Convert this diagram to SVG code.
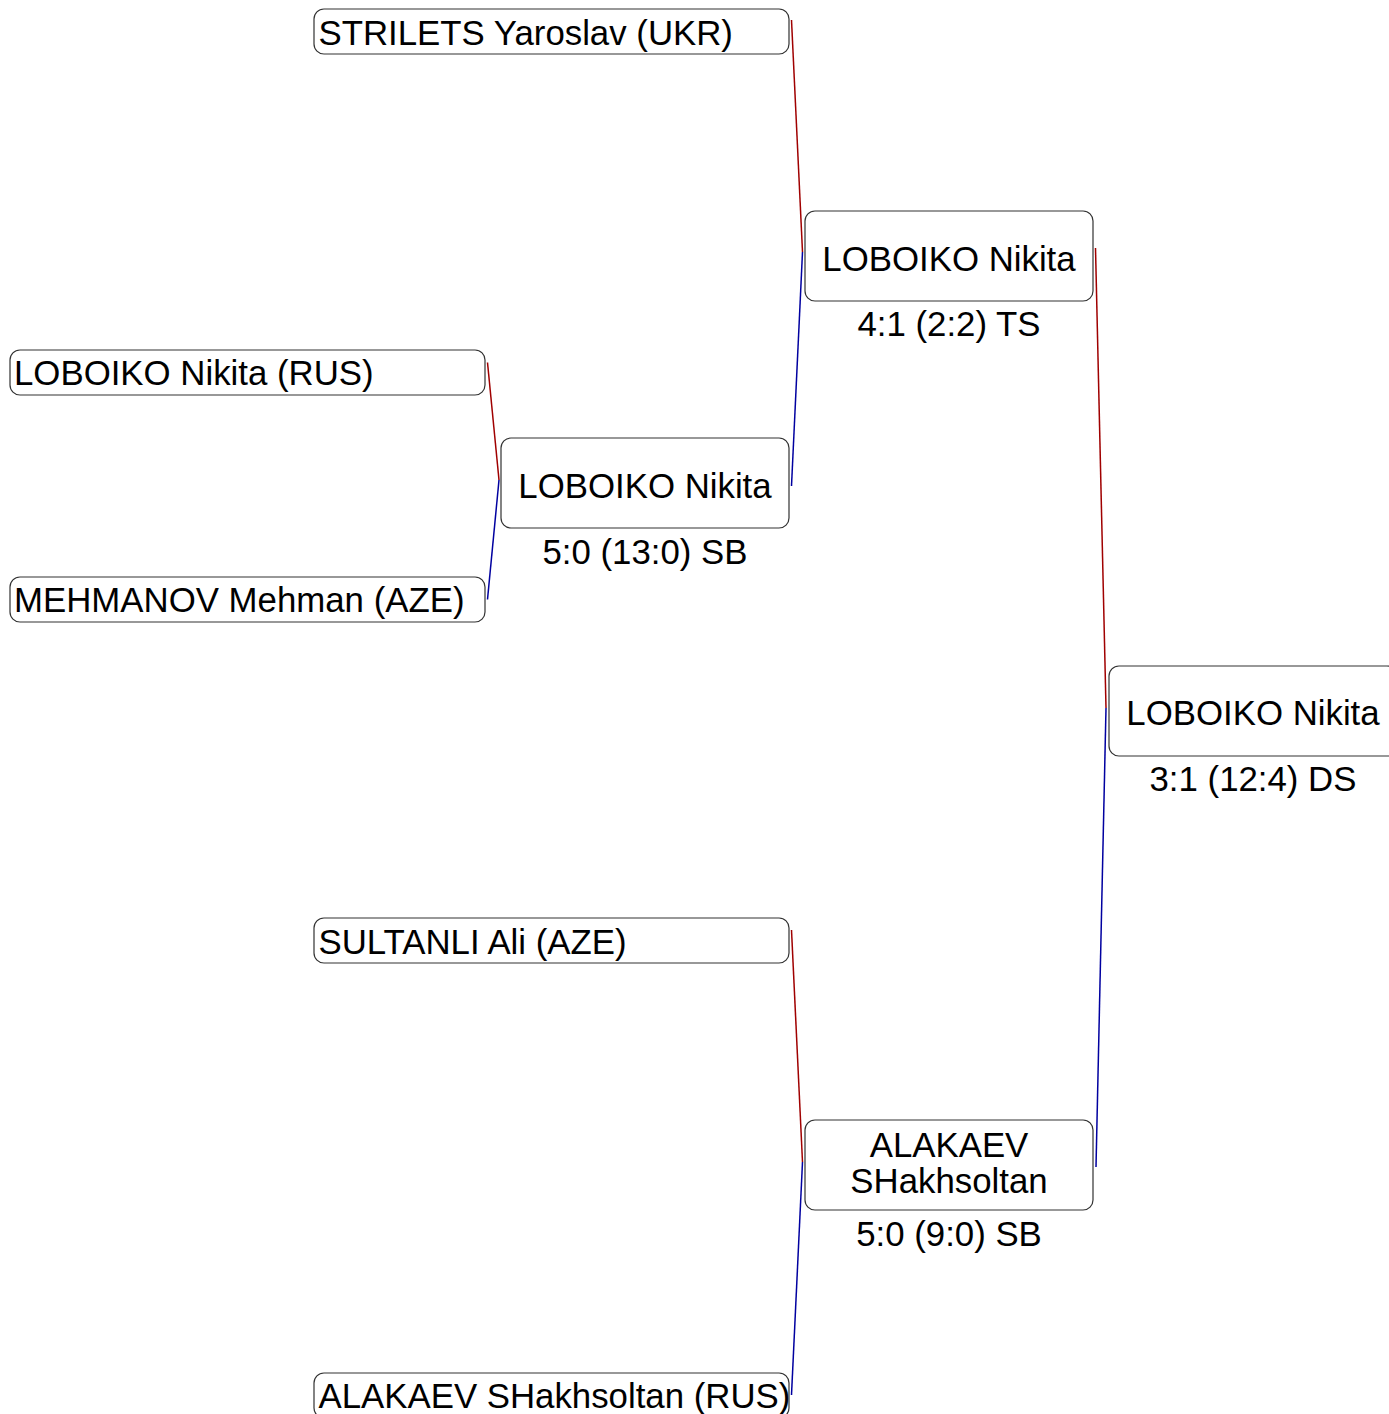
<svg xmlns="http://www.w3.org/2000/svg" width="1389" height="1414" viewBox="0 0 1389 1414">
<style>
.box{fill:#fff;stroke:#333;stroke-width:1.2}
.t{font-family:"Liberation Sans",Arial,sans-serif;font-size:34.8px;fill:#000}
.c{text-anchor:middle}
.red{stroke:#a00000;stroke-width:1.5;fill:none}
.blue{stroke:#0000a0;stroke-width:1.5;fill:none}
</style>
<rect width="1389" height="1414" fill="#fff"/>
<g id="connectors">
<line class="red" x1="791.5" y1="20" x2="802.5" y2="252"/>
<line class="blue" x1="802.5" y1="252" x2="791.5" y2="486"/>
<line class="red" x1="487.5" y1="362.5" x2="499" y2="480"/>
<line class="blue" x1="499" y1="480" x2="487.5" y2="599.5"/>
<line class="red" x1="1095.5" y1="248" x2="1106" y2="708"/>
<line class="blue" x1="1106" y1="708" x2="1096" y2="1167"/>
<line class="red" x1="791.5" y1="930" x2="802.5" y2="1162"/>
<line class="blue" x1="802.5" y1="1162" x2="791.5" y2="1395"/>
</g>
<g id="n-strilets">
<rect class="box" x="314" y="9" width="475" height="45" rx="10"/>
<text class="t" x="318.5" y="44.5">STRILETS Yaroslav (UKR)</text>
</g>
<g id="n-loboiko-rus">
<rect class="box" x="10" y="350" width="475" height="45" rx="10"/>
<text class="t" x="14" y="385">LOBOIKO Nikita (RUS)</text>
</g>
<g id="n-mehmanov">
<rect class="box" x="10" y="577" width="475" height="45" rx="10"/>
<text class="t" x="14" y="612">MEHMANOV Mehman (AZE)</text>
</g>
<g id="n-sultanli">
<rect class="box" x="314" y="918" width="475" height="45" rx="10"/>
<text class="t" x="318.5" y="953.5">SULTANLI Ali (AZE)</text>
</g>
<g id="n-alakaev-rus">
<rect class="box" x="314" y="1373" width="475" height="45" rx="10"/>
<text class="t" x="318.5" y="1408">ALAKAEV SHakhsoltan (RUS)</text>
</g>
<g id="n-r2a">
<rect class="box" x="501" y="438" width="288" height="90" rx="10"/>
<text class="t c" x="645" y="498">LOBOIKO Nikita</text>
<text class="t c" x="645" y="564">5:0 (13:0) SB</text>
</g>
<g id="n-r2top">
<rect class="box" x="805" y="211" width="288" height="90" rx="10"/>
<text class="t c" x="949" y="271">LOBOIKO Nikita</text>
<text class="t c" x="949" y="336">4:1 (2:2) TS</text>
</g>
<g id="n-r2bottom">
<rect class="box" x="805" y="1120" width="288" height="90" rx="10"/>
<text class="t c" x="949" y="1157">ALAKAEV</text>
<text class="t c" x="949" y="1193">SHakhsoltan</text>
<text class="t c" x="949" y="1246">5:0 (9:0) SB</text>
</g>
<g id="n-final">
<rect class="box" x="1109" y="666" width="288" height="90" rx="10"/>
<text class="t c" x="1253" y="725">LOBOIKO Nikita</text>
<text class="t c" x="1253" y="791">3:1 (12:4) DS</text>
</g>
</svg>
